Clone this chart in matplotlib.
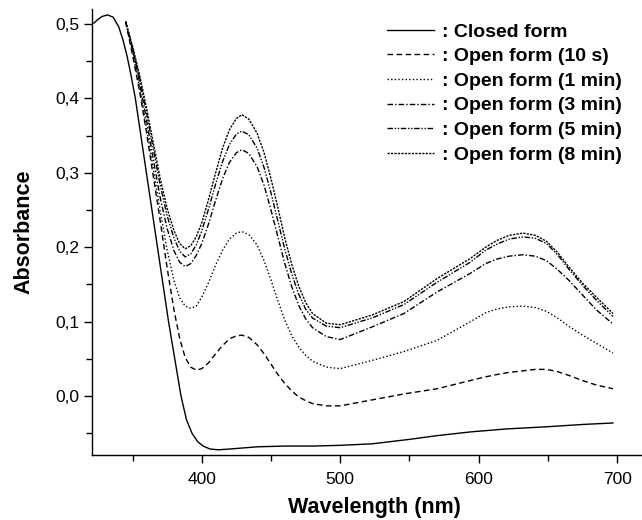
"""Absorption spectra of the closed form and the photo-generated open form."""
import matplotlib

matplotlib.use("Agg")
import matplotlib.pyplot as plt
from matplotlib.ticker import FuncFormatter, MultipleLocator

plt.rcParams.update(
    {
        "font.family": ["Liberation Sans", "DejaVu Sans"],
        "axes.linewidth": 1.0,
        "xtick.direction": "out",
        "ytick.direction": "out",
    }
)

# Spectra: wavelength (nm) and absorbance per series.
closed_wl = [322, 325, 328, 332, 336, 340, 343, 346, 349, 352, 356, 360, 364, 368, 372,
             376, 380.5, 385, 389, 393, 397, 401, 406, 412, 420, 440, 460, 480, 500,
             523, 550, 570, 594, 620, 650, 675, 697]
closed_abs = [0.501, 0.506, 0.510, 0.512, 0.509, 0.496, 0.479, 0.457, 0.430, 0.400,
              0.350, 0.300, 0.250, 0.200, 0.150, 0.100, 0.050, 0.000, -0.032, -0.050,
              -0.061, -0.067, -0.071, -0.072, -0.071, -0.068, -0.067, -0.067, -0.066,
              -0.064, -0.058, -0.053, -0.048, -0.044, -0.041, -0.038, -0.036]

open_wl = [345, 350, 355, 360, 365, 370, 375, 380, 384, 388, 392, 396, 400, 405, 410,
           415, 420, 425, 429, 434, 440, 445, 450, 455, 460, 465, 470, 475, 480, 490,
           500, 523, 546, 570, 594, 605, 613, 622, 632, 641, 649, 657, 665, 675, 685, 697]
open_10s = [0.503, 0.458, 0.410, 0.355, 0.295, 0.235, 0.172, 0.115, 0.078, 0.052,
            0.039, 0.035, 0.037, 0.045, 0.057, 0.068, 0.077, 0.081, 0.082, 0.079,
            0.069, 0.057, 0.043, 0.029, 0.017, 0.007, -0.001, -0.006, -0.010, -0.013,
            -0.013, -0.005, 0.003, 0.010, 0.021, 0.026, 0.029, 0.032, 0.034, 0.036,
            0.036, 0.033, 0.028, 0.021, 0.015, 0.010]
open_1min = [0.503, 0.462, 0.415, 0.362, 0.305, 0.248, 0.196, 0.155, 0.132, 0.121,
             0.118, 0.121, 0.133, 0.153, 0.176, 0.196, 0.211, 0.219, 0.221, 0.217,
             0.203, 0.182, 0.156, 0.128, 0.102, 0.081, 0.066, 0.055, 0.047, 0.039,
             0.037, 0.048, 0.060, 0.075, 0.100, 0.112, 0.117, 0.120, 0.121, 0.119,
             0.114, 0.105, 0.094, 0.082, 0.071, 0.058]
open_3min = [0.503, 0.466, 0.422, 0.372, 0.318, 0.266, 0.225, 0.195, 0.180, 0.174,
             0.178, 0.189, 0.205, 0.232, 0.263, 0.292, 0.314, 0.327, 0.331, 0.326,
             0.308, 0.283, 0.250, 0.214, 0.178, 0.147, 0.122, 0.104, 0.092, 0.080,
             0.076, 0.093, 0.111, 0.140, 0.165, 0.178, 0.184, 0.188, 0.190, 0.188,
             0.182, 0.170, 0.156, 0.136, 0.116, 0.097]
open_5min = [0.503, 0.468, 0.428, 0.382, 0.332, 0.283, 0.242, 0.212, 0.195, 0.187,
             0.191, 0.203, 0.222, 0.252, 0.285, 0.315, 0.338, 0.352, 0.356, 0.351,
             0.333, 0.307, 0.273, 0.235, 0.197, 0.164, 0.137, 0.117, 0.105, 0.094,
             0.092, 0.105, 0.123, 0.153, 0.180, 0.196, 0.204, 0.211, 0.214, 0.212,
             0.205, 0.190, 0.171, 0.149, 0.129, 0.107]
open_8min = [0.503, 0.470, 0.432, 0.388, 0.340, 0.292, 0.252, 0.222, 0.205, 0.198,
             0.202, 0.214, 0.233, 0.265, 0.300, 0.333, 0.358, 0.373, 0.378, 0.372,
             0.353, 0.327, 0.292, 0.253, 0.212, 0.177, 0.148, 0.126, 0.111, 0.098,
             0.096, 0.109, 0.127, 0.158, 0.185, 0.200, 0.209, 0.216, 0.219, 0.216,
             0.208, 0.193, 0.174, 0.152, 0.133, 0.111]

labels = [": Closed form", ": Open form (10 s)", ": Open form (1 min)",
          ": Open form (3 min)", ": Open form (5 min)", ": Open form (8 min)"]

# Line style per series, in the same order as the labels.
dashes = [None, (4, 2.5), (1, 1.6), (4, 1.5, 1, 1.5), (4, 1.2, 1, 1.2, 1, 1.2), (1.6, 0.9)]


def main() -> None:
    fig = plt.figure(figsize=(6.42, 5.2), dpi=100)
    ax = fig.add_axes([92 / 642, 65 / 520, 550 / 642, 446 / 520])

    series = [(closed_wl, closed_abs)] + [
        (open_wl, s) for s in (open_10s, open_1min, open_3min, open_5min, open_8min)
    ]
    for (wl, ab), label, dash in zip(series, labels, dashes):
        (line,) = ax.plot(wl, ab, color="black", linewidth=1.0, label=label)
        if dash is not None:
            line.set_dashes(dash)

    ax.set_xlim(320.7, 718.0)
    ax.set_ylim(-0.079, 0.52)
    ax.spines["top"].set_visible(False)
    ax.spines["right"].set_visible(False)

    ax.xaxis.set_major_locator(MultipleLocator(100))
    ax.xaxis.set_minor_locator(MultipleLocator(50))
    ax.yaxis.set_major_locator(MultipleLocator(0.1))
    ax.yaxis.set_minor_locator(MultipleLocator(0.05))
    ax.yaxis.set_major_formatter(FuncFormatter(lambda v, _: f"{v:.1f}".replace(".", ",").replace("-0,0", "0,0")))
    ax.tick_params(which="major", length=6, width=1.0, labelsize=12.5, pad=3)
    ax.tick_params(which="minor", length=4, width=1.0)
    ax.tick_params(axis="x", which="major", pad=6)

    ax.set_xlabel("Wavelength (nm)", fontsize=15.5, fontweight="bold")
    ax.set_ylabel("Absorbance", fontsize=15.5, fontweight="bold")
    ax.xaxis.set_label_coords(0.513, -0.094)
    ax.yaxis.set_label_coords(-0.104, 0.5)

    ax.legend(
        loc="upper left",
        bbox_to_anchor=(387 / 642, 1 - 23 / 520),
        bbox_transform=fig.transFigure,
        frameon=False,
        borderpad=0,
        borderaxespad=0,
        handlelength=2.4,
        handletextpad=0.45,
        labelspacing=0.36,
        prop={"size": 14, "weight": "bold"},
    )

    fig.savefig("out.png", dpi=100)
    plt.close(fig)


if __name__ == "__main__":
    main()
